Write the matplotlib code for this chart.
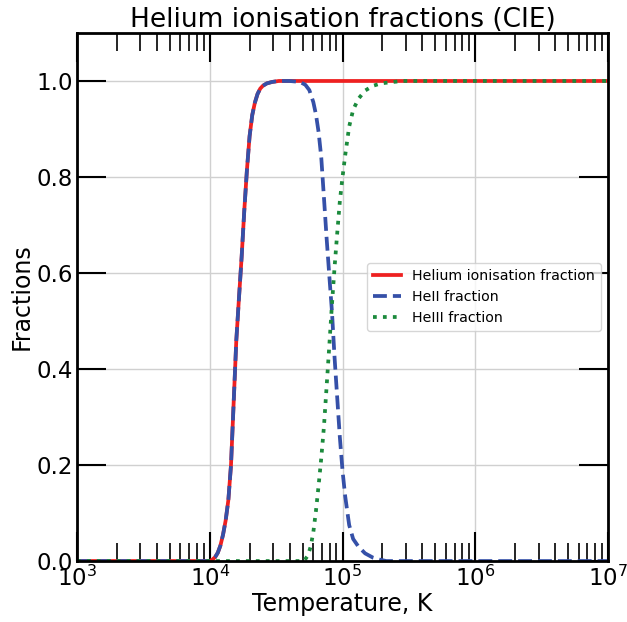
import numpy as np
import matplotlib
matplotlib.use("Agg")
from matplotlib import pyplot as plt

# values (log10 T, fraction)
ion_logT = [3.0, 4.00, 4.02, 4.04, 4.06, 4.08, 4.10, 4.12, 4.14, 4.16, 4.18, 4.20,
            4.22, 4.24, 4.26, 4.28, 4.30, 4.32, 4.34, 4.36, 4.38, 4.40, 4.43, 4.47,
            4.52, 7.0]
ion_frac = [0.0, 0.0, 0.003, 0.008, 0.017, 0.032, 0.055, 0.085, 0.127, 0.20, 0.33,
            0.46, 0.548, 0.633, 0.73, 0.815, 0.885, 0.929, 0.955, 0.973, 0.984,
            0.99, 0.995, 0.998, 1.0, 1.0]

heii_logT = ion_logT[:-1] + [4.60, 4.68, 4.72, 4.75, 4.78, 4.80, 4.82, 4.84, 4.86,
                             4.88, 4.90, 4.92, 4.94, 4.96, 4.98, 5.00, 5.02, 5.05,
                             5.08, 5.12, 5.17, 5.23, 5.28, 5.33, 7.0]
heii_frac = ion_frac[:-1] + [1.0, 0.998, 0.992, 0.981, 0.956, 0.93, 0.893, 0.84,
                             0.757, 0.673, 0.596, 0.521, 0.424, 0.34, 0.257, 0.188,
                             0.135, 0.075, 0.046, 0.03, 0.016, 0.007, 0.003, 0.0, 0.0]

heiii_logT = [3.0, 4.71, 4.74, 4.76, 4.78, 4.80, 4.82, 4.84, 4.86, 4.88, 4.90, 4.92,
              4.94, 4.96, 4.98, 5.00, 5.02, 5.05, 5.08, 5.12, 5.17, 5.23, 5.29, 5.35,
              5.45, 7.0]
heiii_frac = [0.0, 0.0, 0.012, 0.03, 0.06, 0.105, 0.158, 0.215, 0.28, 0.363, 0.447,
              0.533, 0.612, 0.683, 0.75, 0.80, 0.845, 0.905, 0.94, 0.963, 0.98,
              0.99, 0.995, 0.997, 1.0, 1.0]

fig = plt.figure(figsize=(6.27, 6.22), dpi=100)
ax = fig.add_axes([0.1228, 0.098, 0.847, 0.849])

ax.plot(10 ** np.array(ion_logT), ion_frac, color="#ee2020", lw=2.7,
        label="Helium ionisation fraction")
ax.plot(10 ** np.array(heii_logT), heii_frac, color="#3550a8", lw=2.7, ls="--",
        label="HeII fraction")
ax.plot(10 ** np.array(heiii_logT), heiii_frac, color="#1b8a3c", lw=2.7, ls=":",
        label="HeIII fraction")

ax.set_xscale("log")
ax.set_xlim(1e3, 1e7)
ax.set_ylim(0, 1.1)
ax.set_yticks([0.0, 0.2, 0.4, 0.6, 0.8, 1.0])
ax.grid(True, color="#d0d0d0", lw=1)

ax.tick_params(which="major", direction="in", length=21, width=1.5,
               top=True, right=True, labelsize=16.5, pad=3)
ax.tick_params(which="minor", direction="in", length=13, width=1.2, top=True)
for s in ax.spines.values():
    s.set_linewidth(2)

ax.set_xlabel("Temperature, K", fontsize=17, labelpad=1)
ax.set_ylabel("Fractions", fontsize=17, labelpad=2)
ax.set_title("Helium ionisation fractions (CIE)", fontsize=19, pad=2)
ax.legend(loc="center right", fontsize=10.2)

fig.savefig("out.png", dpi=100)
